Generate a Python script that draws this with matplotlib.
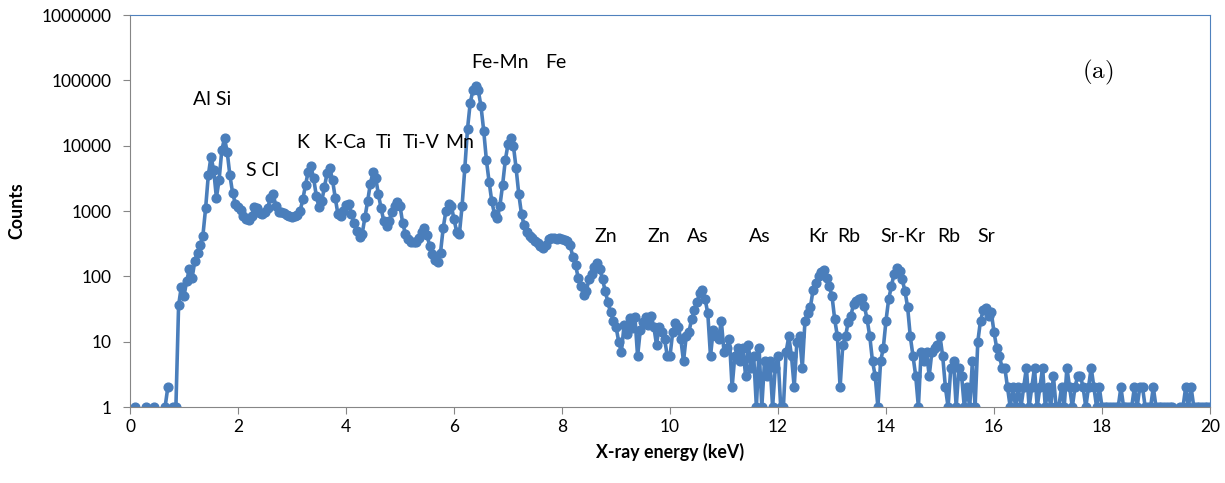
import numpy as np
import matplotlib
matplotlib.use("Agg")
import matplotlib.pyplot as plt

nan = np.nan

# counts per channel, 0.05 keV steps (0.05 .. 20.00 keV)
counts_low = [nan, 1, nan, nan, nan, 1, nan, nan, 1, nan,
              nan, nan, 1, 2, nan, 1, 1, 36, 69, 50,
              85, 130, 95, 170, 230, 300, 420, 1100, 3500, 6800,
              4200, 1600, 3000, 8500, 13000, 8000, 3500, 1900, 1300, 1150,
              1050, 850, 750, 720, 850, 1150, 1100, 920, 900, 960,
              1100, 1600, 1850, 1200, 980, 950, 930, 880, 840, 820,
              830, 870, 1000, 1500, 2500, 4000, 4800, 3200, 1700, 1150,
              1400, 2300, 3800, 4500, 3000, 1600, 900, 850, 1000, 1250,
              1300, 900, 650, 500, 400, 450, 800, 1400, 2600, 3900,
              3200, 1800, 1100, 700, 580, 700, 950, 1200, 1350, 1200]

counts_mid = [650, 450, 370, 340, 330, 340, 380, 480, 550, 430,
              290, 220, 180, 165, 230, 550, 1000, 1300, 1200, 750,
              480, 450, 1200, 4500, 18000, 45000, 70000, 82000, 70000, 40000,
              17000, 6000, 2800, 1400, 900, 780, 1200, 2500, 6000, 10500,
              13000, 10000, 4500, 1800, 900, 600, 480, 420, 380, 350,
              320, 290, 270, 300, 370, 390, 380, 370, 380, 370,
              360, 350, 300, 200, 150, 95, 70, 52, 60, 90,
              110, 140, 160, 130, 90, 60, 40, 28, 21, 17,
              10, 7, 18, 13, 23, 16, 24, 6, 15, 20,
              24, 18, 25, 17, 9, 17, 14, 11, 6, 6]

counts_high = [14, 19, 17, 11, 5, 12, 14, 22, 30, 40,
               55, 62, 45, 27, 6, 15, 12, 11, 21, 7,
               8, 11, 2, 6, 8, 5, 8, 3, 9, 4,
               6, 1, 8, 1, 5, 3, 5, 1, 4, 6,
               1, 1, 7, 12, 6, 2, 10, 12, 4, 21,
               27, 34, 62, 80, 100, 118, 125, 95, 70, 50,
               22, 12, 2, 9, 12, 20, 25, 38, 42, 45,
               47, 35, 22, 12, 5, 3, 1, 5, 8, 21,
               45, 70, 110, 135, 120, 90, 60, 34, 12, 6,
               3, 1, 7, 5, 7, 3, 7, 8, 9, 12]

counts_tail = [6, 2, 1, 4, 5, 1, 4, 3, 1, 2,
               1, 5, 1, 10, 21, 30, 33, 25, 28, 14,
               8, 6, 4, 4, 2, 1, 2, 1, 2, 1,
               2, 4, 1, 2, 4, 1, 2, 4, 1, 2,
               1, 3, 1, 1, 2, 1, 4, 2, 1, 2,
               3, 3, 2, 1, 2, 4, 2, 1, 2, 1,
               1, 1, 1, 1, 1, 1, 2, 1, 1, 1,
               1, 2, 1, 2, 2, 1, 1, 1, 2, 1,
               1, 1, 1, 1, 1, 1, nan, nan, 1, 1,
               2, 1, 2, 1, 1, 1, 1, 1, 1, 1]

counts = np.array(counts_low + counts_mid + counts_high + counts_tail, dtype=float)
energy = np.arange(1, len(counts) + 1) * 0.05

# peak labels: (text, energy, height)
labels = [("Al Si", 1.52, 51000), ("S Cl", 2.46, 4100), ("K", 3.20, 11000),
          ("K-Ca", 3.98, 11000), ("Ti", 4.70, 11000), ("Ti-V", 5.39, 11000),
          ("Mn", 6.11, 11000), ("Fe-Mn", 6.85, 190000), ("Fe", 7.89, 190000),
          ("Zn", 8.81, 400), ("Zn", 9.80, 400), ("As", 10.52, 400),
          ("As", 11.67, 400), ("Kr", 12.74, 400), ("Rb", 13.31, 400),
          ("Sr-Kr", 14.31, 400), ("Rb", 15.17, 400), ("Sr", 15.85, 400)]

plt.rcParams['font.family'] = ['Lato', 'DejaVu Sans']
plt.rcParams['mathtext.fontset'] = 'cm'

fig = plt.figure(figsize=(12.25, 4.83), dpi=100)
ax = fig.add_axes([130 / 1225, 1 - 407 / 483, 1080 / 1225, 392 / 483])

blue = '#4A7EBB'
ax.plot(energy, counts, color=blue, lw=2.6, marker='o', ms=6.3, mec=blue, mfc=blue)

ax.set_yscale('log')
ax.set_ylim(1, 1e6)
ax.set_xlim(0, 20)
ax.set_xticks(range(0, 21, 2))
yt = [1, 10, 100, 1000, 10000, 100000, 1000000]
ax.set_yticks(yt)
ax.set_yticklabels([str(v) for v in yt])
ax.minorticks_off()
ax.tick_params(labelsize=12.5, length=5, color='#868686', direction='out')
ax.tick_params(axis='y', pad=8)

for s in ['left', 'bottom']:
    ax.spines[s].set_color('#868686')
for s in ['top', 'right']:
    ax.spines[s].set_color('#4F81BD')

ax.set_xlabel('X-ray energy (keV)', fontsize=12.8, fontweight='bold', labelpad=6)
ax.set_ylabel('Counts', fontsize=12.8, fontweight='bold', labelpad=12)

for txt, e, h in labels:
    ax.text(e, h, txt, ha='center', va='center', fontsize=14)
ax.text(17.93, 130000, r'$\mathrm{(a)}$', ha='center', va='center', fontsize=18)

fig.savefig('out.png', dpi=100)
